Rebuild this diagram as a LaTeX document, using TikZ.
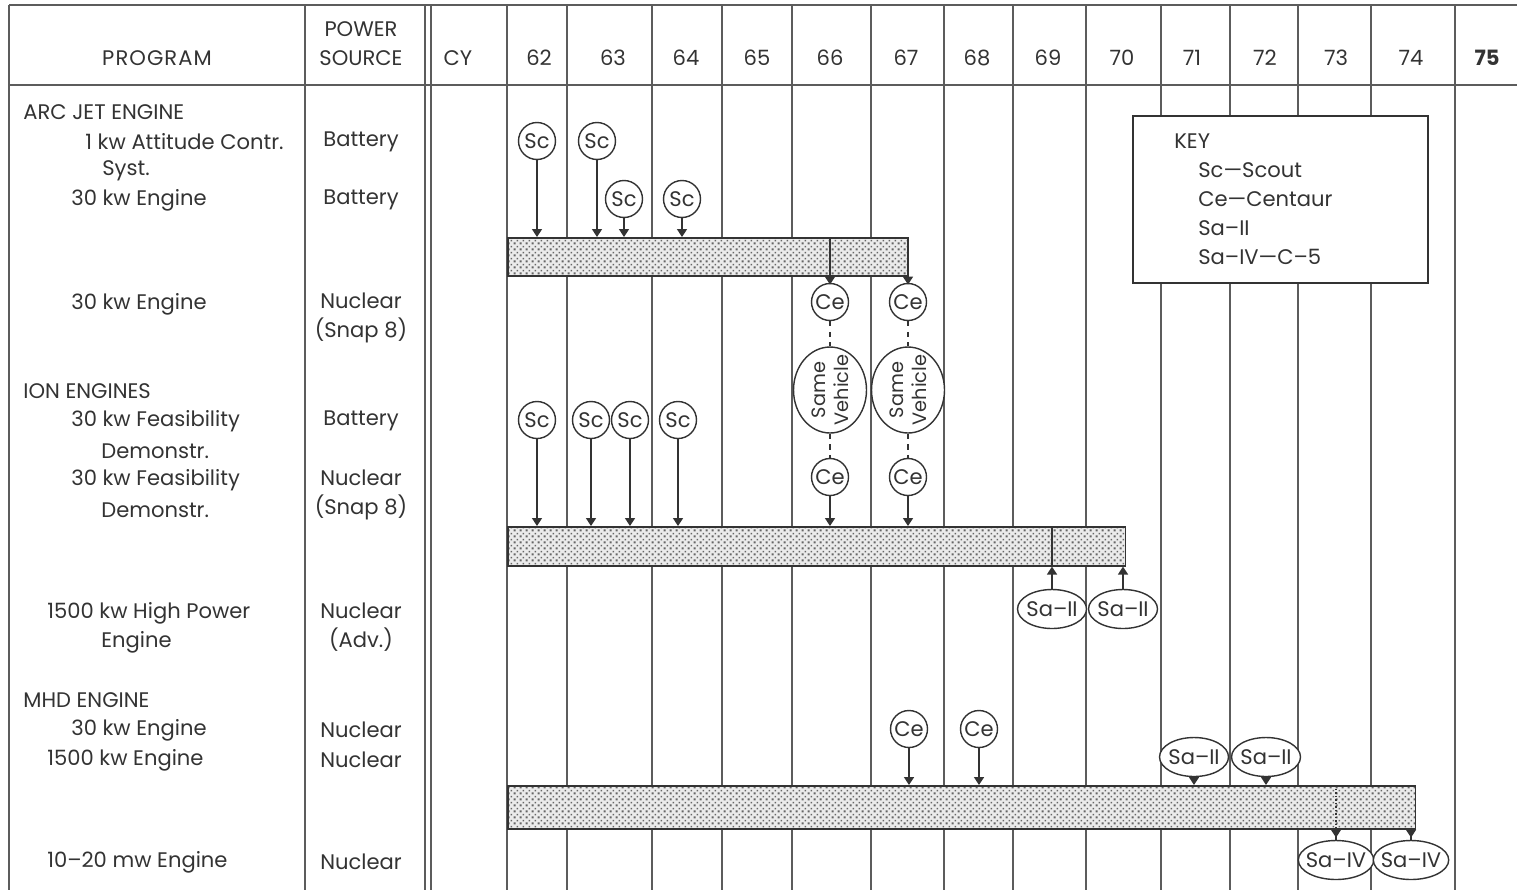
\documentclass[tikz,border=0pt]{standalone}
\usepackage{fontspec}
\setmainfont{Poppins}
\usepackage{tikz}
\usetikzlibrary{arrows.meta,positioning,shapes.geometric,patterns}
\definecolor{ink}{HTML}{333333}
\colorlet{rulecol}{ink!80}
\pgfdeclarepatternformonly{bardots}{\pgfpointorigin}{\pgfpoint{3.4pt}{3.4pt}}{\pgfpoint{3.4pt}{3.4pt}}{
  \pgfpathrectangle{\pgfpoint{0.4pt}{0.4pt}}{\pgfpoint{1.1pt}{1.1pt}}
  \pgfpathrectangle{\pgfpoint{2.1pt}{2.1pt}}{\pgfpoint{0.8pt}{0.8pt}}
  \pgfusepath{fill}}

\begin{document}
\begin{tikzpicture}[x=0.02cm,y=-0.02cm,
  every node/.style={font=\fontsize{12}{16.5}\selectfont,text=ink},
  lbl/.style={anchor=west,inner sep=0pt},
  src/.style={align=center,inner sep=0pt},
  grid/.style={rulecol,line width=0.7pt},
  bar/.style={draw=ink,line width=0.9pt,anchor=north west,inner sep=0pt,
    preaction={fill=black!8},pattern=bardots,pattern color=black!60},
  veh/.style={circle,draw=ink,fill=white,line width=0.8pt,minimum size=0.74cm,inner sep=0pt},
  sat/.style={ellipse,draw=ink,fill=white,line width=0.8pt,minimum width=1.38cm,
    minimum height=0.78cm,inner xsep=-2pt,inner ysep=0pt},
  same/.style={ellipse,draw=ink,fill=white,line width=0.8pt,rotate=90,minimum width=1.72cm,
    minimum height=1.46cm,inner xsep=-8pt,inner ysep=-5pt,align=center,
    font=\fontsize{11}{13}\selectfont},
  keybox/.style={draw=ink,fill=white,line width=0.9pt,anchor=north west,inner sep=0pt,
    minimum width=5.9cm,minimum height=3.34cm},
  tip/.style={-{Triangle[length=1.6mm,width=2mm]},ink,line width=0.9pt},
  tipdn/.style={{Triangle[reversed,length=1.6mm,width=2mm]}-,ink,line width=0.9pt},
  link/.style={ink,line width=0.8pt,dashed}]
\useasboundingbox (0,0) rectangle (1517,890);

% ---- the frame and the year columns -----------------------------------
\draw[grid] (9,5) -- (1517,5);
\draw[grid] (9,85) -- (1517,85);
\foreach \x in {9,305,425,431,507,567,652,722,792,871,944,1013,1086,1161,1230,1298,1371,1455}
  \draw[grid] (\x,5) -- (\x,890);

% ---- header ------------------------------------------------------------
\node (hprog) at (157,58) {P\kern.6pt R\kern.6pt O\kern.6pt G\kern.6pt R\kern.6pt A\kern.6pt M};
\node[src] (hsrc) at (361,44) {POWER\\SOURCE};
\node (hcy) at (458,58) {CY};
\foreach \yr/\x in {62/539,63/613,64/686,65/757,66/830,67/906,68/977,69/1048,
                    70/1122,71/1192,72/1265,73/1336,74/1411}
  \node (y\yr) at (\x,58) {\yr};
\node (y75) at (1487,58) {\textbf{75}};

% ---- programs ----------------------------------------------------------
\node[lbl] (arc)   at (23,112)  {ARC\ JET\ ENGINE};
\node[lbl] (arc1)  at (85,142)  {1 kw Attitude Contr.};
\node[lbl] (arc1b) at (102,171) {Syst.};
\node[lbl] (arc2)  at (71,200)  {30 kw Engine};
\node[lbl] (arc3)  at (71,304)  {30 kw Engine};
\node[lbl] (ion)   at (23,391)  {ION\ ENGINES};
\node[lbl] (ion1)  at (71,421)  {30 kw Feasibility};
\node[lbl] (ion1b) at (101,451) {Demonstr.};
\node[lbl] (ion2)  at (71,480)  {30 kw Feasibility};
\node[lbl] (ion2b) at (101,510) {Demonstr.};
\node[lbl] (ion3)  at (47,613)  {1500 kw High Power};
\node[lbl] (ion3b) at (101,642) {Engine};
\node[lbl] (mhd)   at (23,700)  {MHD\ ENGINE};
\node[lbl] (mhd1)  at (71,730)  {30 kw Engine};
\node[lbl] (mhd2)  at (47,760)  {1500 kw Engine};
\node[lbl] (mhd3)  at (47,862)  {10--20 mw Engine};

% ---- power sources -----------------------------------------------------
\node[src] (p1) at (361,142) {Battery};
\node[src] (p2) at (361,200) {Battery};
\node[src] (p3) at (361,318) {Nuclear\\(Snap 8)};
\node[src] (p4) at (361,421) {Battery};
\node[src] (p5) at (361,495) {Nuclear\\(Snap 8)};
\node[src] (p6) at (361,627) {Nuclear\\(Adv.)};
\node[src] (p7) at (361,730) {Nuclear};
\node[src] (p8) at (361,760) {Nuclear};
\node[src] (p9) at (361,862) {Nuclear};

% ---- the bars ----------------------------------------------------------
\node[bar,minimum width=8cm,minimum height=0.76cm]     (arcbar) at (507,237) {};
\node[bar,minimum width=12.36cm,minimum height=0.78cm] (ionbar) at (507,526) {};
\node[bar,minimum width=18.16cm,minimum height=0.86cm] (mhdbar) at (507,785) {};

% ---- key ---------------------------------------------------------------
\node[keybox] (key) at (1132,115) {};
\node[lbl] (k0) at (1174,141) {KEY};
\node[lbl] (k1) at (1198,170) {Sc---Scout};
\node[lbl] (k2) at (1198,199) {Ce---Centaur};
\node[lbl] (k3) at (1198,228) {Sa--II};
\node[lbl] (k4) at (1198,257) {Sa--IV---C--5};

% ---- arc jet launches --------------------------------------------------
\node[veh] (sa1) at (537,141) {Sc};
\node[veh] (sa2) at (597,141) {Sc};
\node[veh] (sa3) at (624,199) {Sc};
\node[veh] (sa4) at (682,199) {Sc};
\node[veh] (ca1) at (830,302) {Ce};
\node[veh] (ca2) at (908,302) {Ce};
\draw[tip] (sa1) -- (sa1 |- arcbar.north);
\draw[tip] (sa2) -- (sa2 |- arcbar.north);
\draw[tip] (sa3) -- (sa3 |- arcbar.north);
\draw[tip] (sa4) -- (sa4 |- arcbar.north);
\draw[ink,line width=0.8pt] (ca1 |- arcbar.north) -- (ca1 |- arcbar.south);
\draw[tipdn] (ca1 |- arcbar.south) -- (ca1);
\draw[tipdn] (ca2 |- arcbar.south) -- (ca2);

% ---- same vehicle ------------------------------------------------------
\node[same] (sv1) at (830,390) {Same\\Vehicle};
\node[same] (sv2) at (908,390) {Same\\Vehicle};
\node[veh]  (ci1) at (830,477) {Ce};
\node[veh]  (ci2) at (908,477) {Ce};
\draw[link] (ca1) -- (sv1);
\draw[link] (sv1) -- (ci1);
\draw[link] (ca2) -- (sv2);
\draw[link] (sv2) -- (ci2);

% ---- ion launches ------------------------------------------------------
\node[veh] (si1) at (537,420) {Sc};
\node[veh] (si2) at (591,420) {Sc};
\node[veh] (si3) at (630,420) {Sc};
\node[veh] (si4) at (678,420) {Sc};
\foreach \n in {si1,si2,si3,si4,ci1,ci2}
  \draw[tip] (\n) -- (\n |- ionbar.north);
\node[sat] (ai1) at (1052,609) {Sa--II};
\node[sat] (ai2) at (1123,609) {Sa--II};
\draw[ink,line width=0.8pt] (ai1 |- ionbar.north) -- (ai1 |- ionbar.south);
\draw[tip] (ai1) -- (ai1 |- ionbar.south);
\draw[tip] (ai2) -- (ai2 |- ionbar.south);

% ---- mhd launches ------------------------------------------------------
\node[veh] (cm1) at (909,729) {Ce};
\node[veh] (cm2) at (979,729) {Ce};
\node[sat] (am1) at (1194,757) {Sa--II};
\node[sat] (am2) at (1266,757) {Sa--II};
\foreach \n in {cm1,cm2,am1,am2}
  \draw[tip] (\n) -- (\n |- mhdbar.north);
\node[sat] (bm1) at (1336,860) {Sa--IV};
\node[sat] (bm2) at (1411,860) {Sa--IV};
\draw[ink,line width=1pt,densely dotted] (bm1 |- mhdbar.north) -- (bm1 |- mhdbar.south);
\draw[tipdn] (bm1 |- mhdbar.south) -- (bm1);
\draw[tipdn] (bm2 |- mhdbar.south) -- (bm2);
\end{tikzpicture}
\end{document}
